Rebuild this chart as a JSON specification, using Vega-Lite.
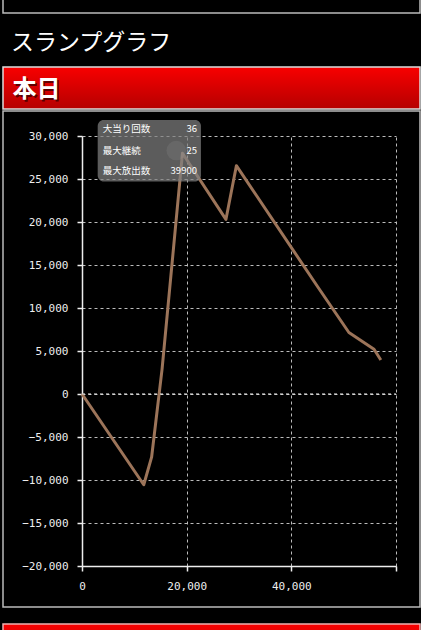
{
  "$schema": "https://vega.github.io/schema/vega-lite/v6.json",
  "background": "black",
  "padding": {"left": 2, "top": -8, "right": 2, "bottom": 0},
  "spacing": 10,
  "config": {
    "view": {"stroke": null},
    "font": "Noto Sans CJK JP"
  },
  "vconcat": [
    {
      "width": 417,
      "height": 20,
      "view": {"stroke": "#bbbbbb", "strokeWidth": 1.5, "fill": "black"},
      "data": {"values": []},
      "mark": {"type": "point", "opacity": 0},
      "title": {
        "text": "スランプグラフ",
        "orient": "bottom",
        "anchor": "start",
        "offset": 19,
        "dx": 8,
        "fontSize": 23,
        "fontWeight": "normal",
        "color": "white",
        "font": "Noto Sans CJK JP"
      }
    },
    {
      "spacing": 0,
      "vconcat": [
        {
          "width": 417,
          "height": 42,
          "view": {
            "stroke": "#dddddd",
            "strokeWidth": 1.5,
            "fill": {
              "gradient": "linear",
              "x1": 0, "y1": 0, "x2": 0, "y2": 1,
              "stops": [
                {"offset": 0, "color": "#f80000"},
                {"offset": 1, "color": "#b50000"}
              ]
            }
          },
          "data": {"values": [{"label": "本日"}]},
          "layer": [
            {
              "mark": {"type": "text", "color": "black", "opacity": 0.55, "fontSize": 24, "fontWeight": "bold", "align": "left", "baseline": "middle", "dx": -197.5, "dy": 3.5, "font": "Noto Sans CJK JP"},
              "encoding": {"text": {"field": "label"}}
            },
            {
              "mark": {"type": "text", "color": "white", "fontSize": 24, "fontWeight": "bold", "align": "left", "baseline": "middle", "dx": -199, "dy": 2, "font": "Noto Sans CJK JP"},
              "encoding": {"text": {"field": "label"}}
            }
          ]
        },
        {
          "spacing": 15,
          "vconcat": [
            {
              "width": 417,
              "height": 496,
              "view": {"stroke": "#bbbbbb", "strokeWidth": 1.5, "fill": "black"},
              "resolve": {"axis": {"x": "independent"}},
              "layer": [
                {
                  "data": {
                    "values": [
                      {"x": 0, "y": 0},
                      {"x": 11800, "y": -10550},
                      {"x": 13300, "y": -7350},
                      {"x": 15300, "y": 2900},
                      {"x": 19200, "y": 28000},
                      {"x": 27500, "y": 20300},
                      {"x": 29500, "y": 26550},
                      {"x": 45000, "y": 12500},
                      {"x": 51000, "y": 7150},
                      {"x": 55800, "y": 5200},
                      {"x": 57100, "y": 3950}
                    ]
                  },
                  "mark": {"type": "line", "color": "#9c7459", "strokeWidth": 3, "strokeJoin": "round"},
                  "encoding": {
                    "x": {
                      "field": "x",
                      "type": "quantitative",
                      "scale": {"domain": [0, 60000], "range": [79, 393], "nice": false, "zero": false},
                      "axis": {
                        "title": null,
                        "orient": "bottom",
                        "values": [0, 20000, 40000, 60000],
                        "labelExpr": "datum.value == 60000 ? '' : format(datum.value, ',d')",
                        "labelFlush": false,
                        "labelOverlap": false,
                        "offset": -41,
                        "grid": false,
                        "domainColor": "#eeeeee",
                        "domainWidth": 1.5,
                        "tickColor": "#eeeeee",
                        "tickSize": 5,
                        "tickWidth": 1.5,
                        "labelFont": "DejaVu Sans Mono",
                        "labelFontSize": 11,
                        "labelColor": "#eeeeee",
                        "labelPadding": 9
                      }
                    },
                    "y": {
                      "field": "y",
                      "type": "quantitative",
                      "scale": {"domain": [-20000, 30000], "range": [455, 25], "nice": false, "zero": false},
                      "axis": {
                        "title": null,
                        "values": [-20000, -15000, -10000, -5000, 0, 5000, 10000, 15000, 20000, 25000, 30000],
                        "format": ",d",
                        "labelOverlap": false,
                        "labelFlush": false,
                        "offset": -79,
                        "grid": true,
                        "gridDash": [3, 3],
                        "gridColor": "#bbbbbb",
                        "gridWidth": 1,
                        "domainColor": "#eeeeee",
                        "domainWidth": 1.5,
                        "tickColor": "#eeeeee",
                        "tickSize": 5,
                        "tickWidth": 1.5,
                        "labelFont": "DejaVu Sans Mono",
                        "labelFontSize": 11,
                        "labelColor": "#eeeeee",
                        "labelPadding": 9
                      }
                    }
                  }
                },
                {
                  "data": {"values": [{}]},
                  "mark": {"type": "rule", "color": "#f0f0f0", "strokeWidth": 1, "strokeDash": [3, 3]},
                  "encoding": {
                    "x": {
                      "datum": 0,
                      "type": "quantitative",
                      "axis": {
                        "title": null,
                        "orient": "top",
                        "values": [20000, 40000, 60000],
                        "offset": -25,
                        "labels": false,
                        "ticks": false,
                        "domain": false,
                        "grid": true,
                        "gridDash": [3, 3],
                        "gridColor": "#bbbbbb",
                        "gridWidth": 1
                      }
                    },
                    "x2": {"datum": 60000},
                    "y": {"datum": 0, "type": "quantitative"}
                  }
                },
                {
                  "data": {"values": [{}]},
                  "mark": {"type": "rect", "color": "#808080", "opacity": 0.72, "cornerRadius": 6},
                  "encoding": {
                    "x": {"datum": 3000, "type": "quantitative", "axis": null},
                    "x2": {"datum": 22730},
                    "y": {"datum": 31860, "type": "quantitative"},
                    "y2": {"datum": 24720}
                  }
                },
                {
                  "data": {"values": [{}]},
                  "mark": {"type": "point", "filled": true, "color": "#bbbbbb", "opacity": 0.12, "size": 380},
                  "encoding": {
                    "x": {"datum": 18000, "type": "quantitative", "axis": null},
                    "y": {"datum": 28300, "type": "quantitative"}
                  }
                },
                {
                  "data": {"values": [{}]},
                  "mark": {"type": "text", "color": "white", "fontSize": 9.5, "align": "left", "baseline": "middle", "font": "Noto Sans CJK JP"},
                  "encoding": {
                    "x": {"datum": 3950, "type": "quantitative", "axis": null},
                    "y": {"datum": 30770, "type": "quantitative"},
                    "text": {"value": "大当り回数"}
                  }
                },
                {
                  "data": {"values": [{}]},
                  "mark": {"type": "text", "color": "white", "fontSize": 9.5, "align": "left", "baseline": "middle", "font": "Noto Sans CJK JP"},
                  "encoding": {
                    "x": {"datum": 3950, "type": "quantitative", "axis": null},
                    "y": {"datum": 28290, "type": "quantitative"},
                    "text": {"value": "最大継続"}
                  }
                },
                {
                  "data": {"values": [{}]},
                  "mark": {"type": "text", "color": "white", "fontSize": 9.5, "align": "left", "baseline": "middle", "font": "Noto Sans CJK JP"},
                  "encoding": {
                    "x": {"datum": 3950, "type": "quantitative", "axis": null},
                    "y": {"datum": 25890, "type": "quantitative"},
                    "text": {"value": "最大放出数"}
                  }
                },
                {
                  "data": {"values": [{}]},
                  "mark": {"type": "text", "color": "white", "fontSize": 9.5, "align": "right", "baseline": "middle", "font": "Noto Sans CJK JP"},
                  "encoding": {
                    "x": {"datum": 21970, "type": "quantitative", "axis": null},
                    "y": {"datum": 30770, "type": "quantitative"},
                    "text": {"value": "36"}
                  }
                },
                {
                  "data": {"values": [{}]},
                  "mark": {"type": "text", "color": "white", "fontSize": 9.5, "align": "right", "baseline": "middle", "font": "Noto Sans CJK JP"},
                  "encoding": {
                    "x": {"datum": 21970, "type": "quantitative", "axis": null},
                    "y": {"datum": 28290, "type": "quantitative"},
                    "text": {"value": "25"}
                  }
                },
                {
                  "data": {"values": [{}]},
                  "mark": {"type": "text", "color": "white", "fontSize": 9.5, "align": "right", "baseline": "middle", "font": "Noto Sans CJK JP"},
                  "encoding": {
                    "x": {"datum": 21970, "type": "quantitative", "axis": null},
                    "y": {"datum": 25890, "type": "quantitative"},
                    "text": {"value": "39900"}
                  }
                }
              ]
            },
            {
              "width": 417,
              "height": 40,
              "view": {
                "stroke": "#f0b0b0",
                "strokeWidth": 1.5,
                "fill": {
                  "gradient": "linear",
                  "x1": 0, "y1": 0, "x2": 0, "y2": 1,
                  "stops": [
                    {"offset": 0, "color": "#f80000"},
                    {"offset": 1, "color": "#b50000"}
                  ]
                }
              },
              "data": {"values": []},
              "mark": {"type": "point", "opacity": 0}
            }
          ]
        }
      ]
    }
  ]
}
